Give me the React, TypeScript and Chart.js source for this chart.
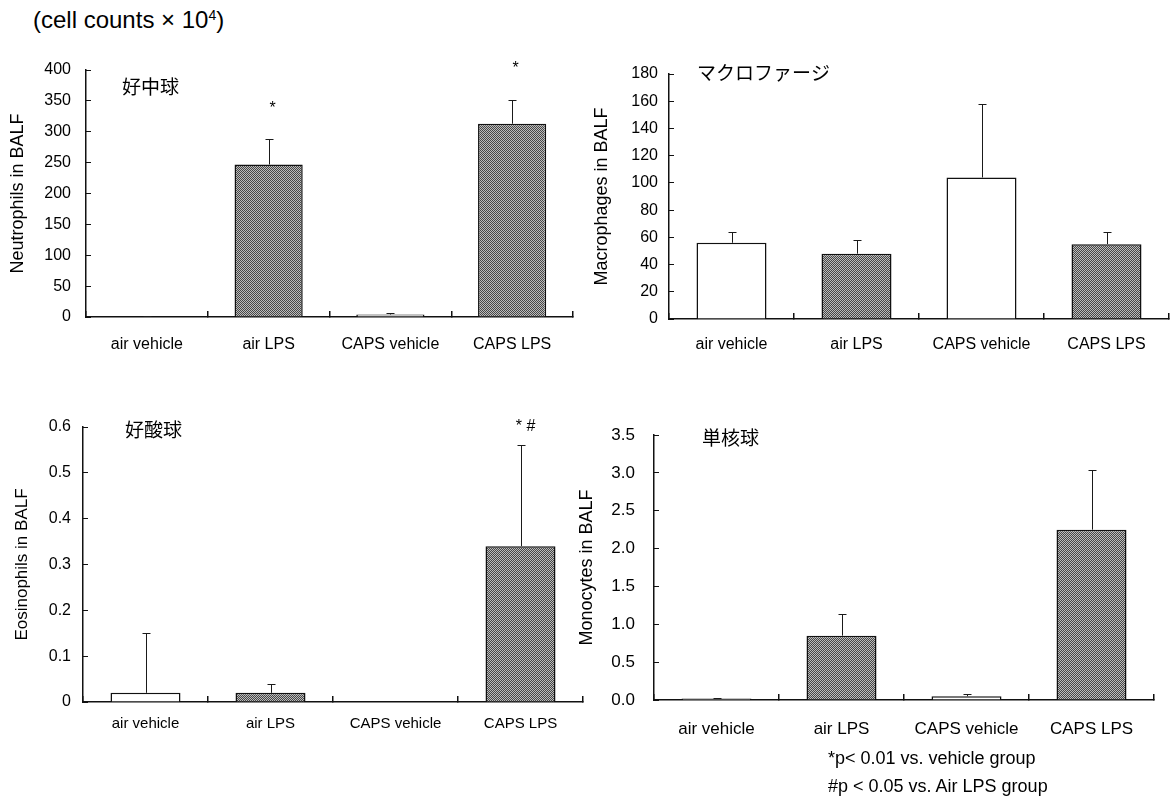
import React, { useEffect, useRef } from "react";
import { Chart, registerables } from "chart.js";

Chart.register(...registerables);

// ---------- data ----------
const categories = ["air vehicle", "air LPS", "CAPS vehicle", "CAPS LPS"];
const isLPS = [false, true, false, true];

const neutrophils = [1, 247, 4, 313];
const neutrophilsSem = [1, 41, 3, 39];
const neutrophilsMarks = ["", "*", "", "*"];
const neutrophilsTicks = { max: 400, step: 50 };

const macrophages = [56, 48, 104, 55];
const macrophagesSem = [8, 10, 54, 9];
const macrophagesMarks = ["", "", "", ""];
const macrophagesTicks = { max: 180, step: 20 };

const eosinophils = [0.02, 0.02, 0, 0.34];
const eosinophilsSem = [0.13, 0.02, 0, 0.22];
const eosinophilsMarks = ["", "", "", "* #"];
const eosinophilsTicks = { max: 0.6, step: 0.1 };

const monocytes = [0.02, 0.85, 0.05, 2.25];
const monocytesSem = [0.01, 0.29, 0.03, 0.79];
const monocytesMarks = ["", "", "", ""];
const monocytesTicks = { max: 3.5, step: 0.5 };

const headerText = "(cell counts × 10";
const headerSup = "4";
const footnotes = ["*p< 0.01 vs. vehicle group", "#p < 0.05 vs. Air LPS group"];

// ---------- helpers ----------
const LATIN = "'Liberation Sans', Arial, Helvetica, sans-serif";
const CJK = "'Noto Sans CJK JP', 'Noto Sans CJK SC', sans-serif";
const PAD_TOP = 36;

function makePattern(): CanvasPattern | string {
  const c = document.createElement("canvas");
  c.width = 2;
  c.height = 2;
  const g = c.getContext("2d");
  if (!g) return "#808080";
  g.fillStyle = "#bcbcbc";
  g.fillRect(0, 0, 2, 2);
  g.fillStyle = "#474747";
  g.fillRect(0, 0, 1, 1);
  g.fillRect(1, 1, 1, 1);
  const p = g.createPattern(c, "repeat");
  return p || "#808080";
}

const errorBarPlugin = {
  id: "errbars",
  afterDatasetsDraw(chart: any, _args: any, opts: any) {
    const { ctx, chartArea } = chart;
    const meta = chart.getDatasetMeta(0);
    const yScale = chart.scales.y;
    const values = chart.data.datasets[0].data as number[];
    ctx.save();
    ctx.strokeStyle = "#1a1a1a";
    ctx.lineWidth = 1;
    meta.data.forEach((bar: any, i: number) => {
      const s = opts.sem[i];
      const x = Math.round(bar.x) + 0.5;
      const yBase = yScale.getPixelForValue(values[i]);
      const yTop = yScale.getPixelForValue(values[i] + s);
      if (s > 0) {
        ctx.beginPath();
        ctx.moveTo(x, yBase);
        ctx.lineTo(x, Math.round(yTop) + 0.5);
        ctx.moveTo(x - 4, Math.round(yTop) + 0.5);
        ctx.lineTo(x + 4, Math.round(yTop) + 0.5);
        ctx.stroke();
      }
      const m = opts.marks[i];
      if (m) {
        ctx.fillStyle = "#000";
        ctx.font = opts.markFont;
        ctx.textAlign = "center";
        ctx.textBaseline = "middle";
        ctx.fillText(m, x + opts.markDx, yTop - opts.markOffset);
      }
    });
    ctx.fillStyle = "#000";
    ctx.font = opts.titleFont;
    ctx.textAlign = "left";
    ctx.textBaseline = "middle";
    ctx.fillText(opts.title, chartArea.left + opts.titleDx, chartArea.top + opts.titleDy);
    ctx.restore();
  },
};

type PanelProps = {
  left: number;
  width: number;
  chartTop: number;
  chartBottom: number;
  yAxisWidth: number;
  xAxisHeight: number;
  padRight: number;
  values: number[];
  sem: number[];
  marks: string[];
  ticks: { max: number; step: number };
  decimals: number;
  zeroPlain: boolean;
  yTitle: string;
  yTitleSize: number;
  yTitlePad: number;
  tickSize: number;
  tickPad: number;
  xSize: number;
  xPad: number;
  title: string;
  titleDx: number;
  titleDy: number;
  markOffset: number;
  markDx: number;
};

function Panel(p: PanelProps) {
  const ref = useRef<HTMLCanvasElement | null>(null);
  const top = p.chartTop - PAD_TOP;
  const height = p.chartBottom + p.xAxisHeight - top;
  useEffect(() => {
    if (!ref.current) return;
    const pattern = makePattern();
    const fills = isLPS.map((l) => (l ? pattern : "#ffffff"));
    const chart = new Chart(ref.current, {
      type: "bar",
      data: {
        labels: categories,
        datasets: [
          {
            data: p.values,
            backgroundColor: fills as any,
            borderColor: "#111",
            borderWidth: 1.5,
            categoryPercentage: 1,
            barPercentage: 0.56,
          },
        ],
      },
      plugins: [errorBarPlugin as any],
      options: {
        responsive: false,
        animation: false,
        devicePixelRatio: 1,
        layout: { padding: { top: PAD_TOP, right: p.padRight, left: 0, bottom: 0 } },
        plugins: {
          legend: { display: false },
          tooltip: { enabled: false },
          errbars: {
            sem: p.sem,
            marks: p.marks,
            markFont: `16px ${LATIN}`,
            markOffset: p.markOffset,
            markDx: p.markDx,
            title: p.title,
            titleFont: `19px ${CJK}`,
            titleDx: p.titleDx,
            titleDy: p.titleDy,
          },
        } as any,
        scales: {
          x: {
            type: "category",
            offset: true,
            border: { display: true, color: "#111", width: 1.5 },
            grid: {
              display: true,
              offset: true,
              drawOnChartArea: false,
              drawTicks: true,
              tickLength: -6,
              color: "#111",
              lineWidth: 1.5,
            },
            ticks: {
              color: "#000",
              font: { family: LATIN, size: p.xSize },
              padding: p.xPad,
              maxRotation: 0,
              autoSkip: false,
            },
            afterFit: (s: any) => {
              s.height = p.xAxisHeight;
            },
          },
          y: {
            type: "linear",
            min: 0,
            max: p.ticks.max,
            border: { display: true, color: "#111", width: 1.5 },
            grid: {
              display: true,
              drawOnChartArea: false,
              drawTicks: true,
              tickLength: -5,
              color: "#111",
              lineWidth: 1,
            },
            ticks: {
              stepSize: p.ticks.step,
              color: "#000",
              font: { family: LATIN, size: p.tickSize },
              padding: p.tickPad,
              callback: (v: any) => {
                const n = Number(v);
                if (n === 0 && p.zeroPlain) return "0";
                return n.toFixed(p.decimals);
              },
            },
            title: {
              display: true,
              text: p.yTitle,
              color: "#000",
              font: { family: LATIN, size: p.yTitleSize },
              padding: { top: p.yTitlePad, bottom: 0 },
            },
            afterFit: (s: any) => {
              s.width = p.yAxisWidth;
            },
          },
        },
      },
    });
    return () => chart.destroy();
  }, []);
  return (
    <canvas
      ref={ref}
      width={p.width}
      height={height}
      style={{ position: "absolute", left: p.left, top, width: p.width, height }}
    />
  );
}

export default function App() {
  return (
    <div
      style={{
        position: "absolute",
        left: 0,
        top: 0,
        width: 1170,
        height: 798,
        background: "#fff",
        overflow: "hidden",
        fontFamily: LATIN,
        color: "#000",
      }}
    >
      <div style={{ position: "absolute", left: 33, top: 6, fontSize: 24, lineHeight: "28px", whiteSpace: "nowrap" }}>
        {headerText}
        <sup style={{ fontSize: 14, lineHeight: 0, verticalAlign: "8px" }}>{headerSup}</sup>)
      </div>

      <Panel
        left={0}
        width={580}
        chartTop={70}
        chartBottom={317}
        yAxisWidth={86}
        xAxisHeight={48}
        padRight={7}
        values={neutrophils}
        sem={neutrophilsSem}
        marks={neutrophilsMarks}
        ticks={neutrophilsTicks}
        decimals={0}
        zeroPlain={true}
        yTitle="Neutrophils in BALF"
        yTitleSize={18}
        yTitlePad={7}
        tickSize={16}
        tickPad={20}
        xSize={16}
        xPad={24}
        title="好中球"
        titleDx={36}
        titleDy={17}
        markOffset={31}
        markDx={3}
      />
      <Panel
        left={585}
        width={585}
        chartTop={74}
        chartBottom={319}
        yAxisWidth={84}
        xAxisHeight={46}
        padRight={1}
        values={macrophages}
        sem={macrophagesSem}
        marks={macrophagesMarks}
        ticks={macrophagesTicks}
        decimals={0}
        zeroPlain={true}
        yTitle="Macrophages in BALF"
        yTitleSize={18}
        yTitlePad={6}
        tickSize={16}
        tickPad={16}
        xSize={16}
        xPad={22}
        title="マクロファージ"
        titleDx={28}
        titleDy={-1}
        markOffset={30}
        markDx={0}
      />
      <Panel
        left={0}
        width={590}
        chartTop={427}
        chartBottom={702}
        yAxisWidth={83}
        xAxisHeight={43}
        padRight={7}
        values={eosinophils}
        sem={eosinophilsSem}
        marks={eosinophilsMarks}
        ticks={eosinophilsTicks}
        decimals={1}
        zeroPlain={true}
        yTitle="Eosinophils in BALF"
        yTitleSize={17}
        yTitlePad={12}
        tickSize={16}
        tickPad={17}
        xSize={15}
        xPad={19}
        title="好酸球"
        titleDx={42}
        titleDy={3}
        markOffset={19}
        markDx={4}
      />
      <Panel
        left={570}
        width={600}
        chartTop={435}
        chartBottom={700}
        yAxisWidth={84}
        xAxisHeight={45}
        padRight={16}
        values={monocytes}
        sem={monocytesSem}
        marks={monocytesMarks}
        ticks={monocytesTicks}
        decimals={1}
        zeroPlain={false}
        yTitle="Monocytes in BALF"
        yTitleSize={18}
        yTitlePad={6}
        tickSize={17}
        tickPad={24}
        xSize={17}
        xPad={25}
        title="単核球"
        titleDx={48}
        titleDy={3}
        markOffset={20}
        markDx={0}
      />

      <div style={{ position: "absolute", left: 828, top: 744, fontSize: 18, lineHeight: "28px", whiteSpace: "nowrap" }}>
        {footnotes[0]}
        <br />
        {footnotes[1]}
      </div>
    </div>
  );
}
